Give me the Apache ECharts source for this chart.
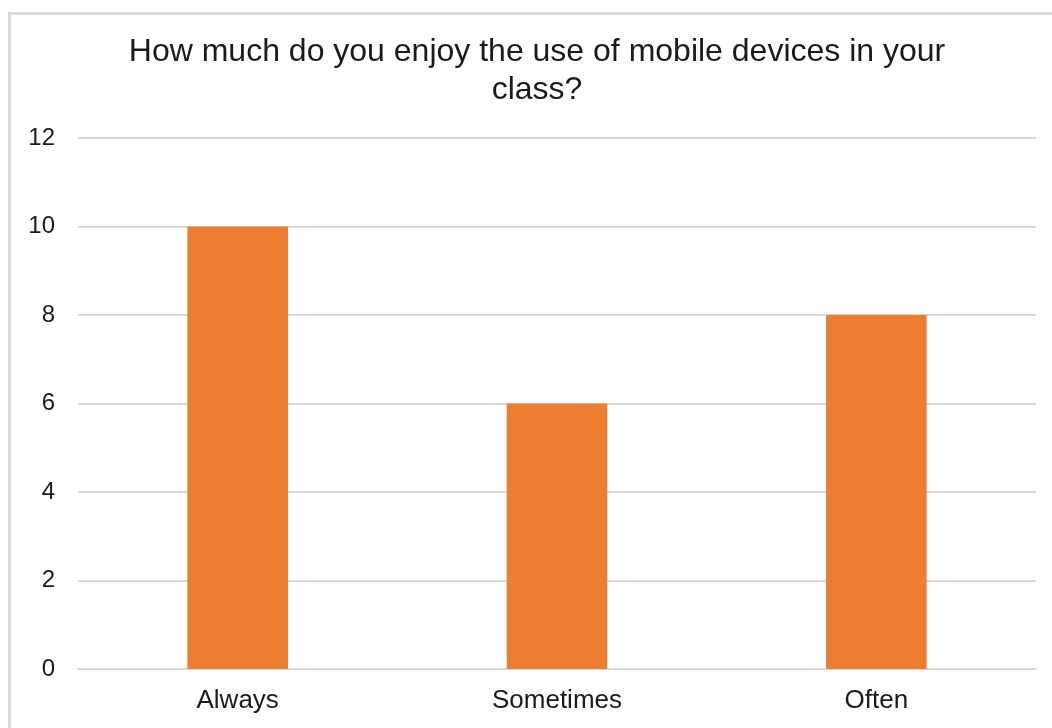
<!DOCTYPE html>
<html>
<head>
<meta charset="utf-8">
<script src="https://cdn.jsdelivr.net/npm/echarts@6/dist/echarts.min.js"></script>
<style>
  html, body { margin: 0; padding: 0; background: #fff; }
  #chart { width: 1052px; height: 728px; }
</style>
</head>
<body>
<div id="chart"></div>
<script>
// Survey responses
const titleText = 'How much do you enjoy the use of mobile devices in your\nclass?';
const categories = ['Always', 'Sometimes', 'Often'];
const counts = [10, 6, 8];
const yTicks = { min: 0, max: 12, interval: 2 };

const chart = echarts.init(document.getElementById('chart'), null, { renderer: 'canvas' });
const font = '"Liberation Sans", Arial, Helvetica, sans-serif';

chart.setOption({
  animation: false,
  backgroundColor: '#ffffff',
  graphic: [{
    type: 'rect',
    shape: { x: 9.5, y: 13.5, width: 1100, height: 800 },
    style: { fill: 'none', stroke: '#d9d9d9', lineWidth: 3 },
    silent: true,
    z: 100
  }],
  title: {
    text: titleText,
    left: 532,
    textAlign: 'center',
    top: 28,
    textStyle: {
      fontFamily: font,
      fontSize: 32,
      fontWeight: 'normal',
      color: '#1a1a1a',
      lineHeight: 38
    }
  },
  grid: { left: 78, right: 16, top: 138, bottom: 59, containLabel: false },
  xAxis: {
    type: 'category',
    data: categories,
    axisLine: { show: true, lineStyle: { color: '#d9d9d9', width: 2 } },
    axisTick: { show: false },
    axisLabel: { fontFamily: font, fontSize: 26, color: '#1a1a1a', margin: 19 }
  },
  yAxis: {
    type: 'value',
    min: yTicks.min,
    max: yTicks.max,
    interval: yTicks.interval,
    axisLine: { show: false },
    axisTick: { show: false },
    splitLine: { lineStyle: { color: '#d9d9d9', width: 2 } },
    axisLabel: { fontFamily: font, fontSize: 24, color: '#1a1a1a', margin: 23 }
  },
  series: [{
    type: 'bar',
    data: counts,
    barWidth: '31.5%',
    itemStyle: { color: '#ed7d31' }
  }]
});
</script>
</body>
</html>
